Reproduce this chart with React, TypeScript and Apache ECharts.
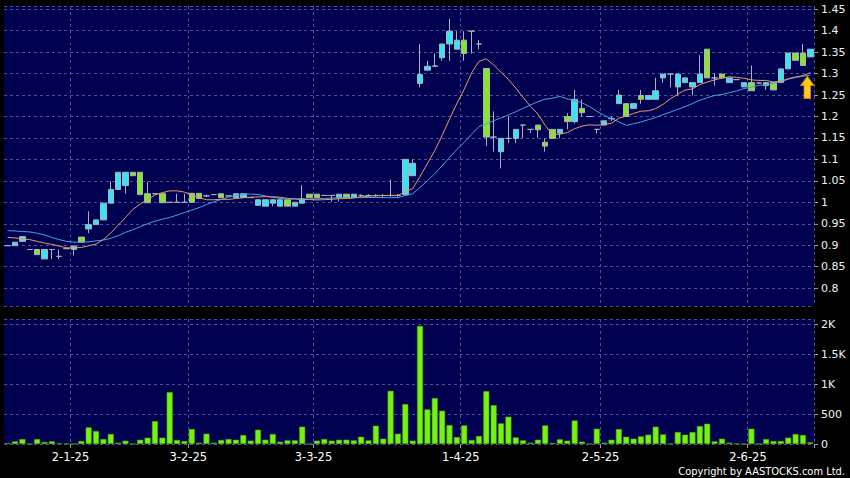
import React, { useEffect, useRef } from 'react';
import * as echarts from 'echarts';

// Daily bars (index 0..109)
const opens = [
  0.899, 0.899, 0.909, 0.890, 0.890, 0.868, 0.890, 0.874, 0.892, 0.890,
  0.919, 0.938, 0.948, 0.959, 0.998, 1.030, 1.039, 1.070, 1.070, 1.020,
  1.020, 1.020, 1.000, 1.000, 1.000, 1.021, 1.021, 1.015, 1.018, 1.020,
  1.015, 1.011, 1.011, 1.011, 0.993, 0.991, 0.998, 0.991, 1.006, 0.991,
  0.998, 1.019, 1.019, 1.016, 1.016, 1.011, 1.019, 1.011, 1.016, 1.016,
  1.016, 1.016, 1.016, 1.016, 1.018, 1.062, 1.277, 1.308, 1.317, 1.337,
  1.369, 1.357, 1.378, 1.399, 1.369, 1.312, 1.152, 1.118, 1.149, 1.149,
  1.180, 1.170, 1.180, 1.140, 1.170, 1.161, 1.200, 1.188, 1.219, 1.200,
  1.170, 1.180, 1.195, 1.230, 1.230, 1.219, 1.249, 1.240, 1.240, 1.290,
  1.299, 1.269, 1.279, 1.269, 1.279, 1.357, 1.290, 1.299, 1.279, 1.286,
  1.269, 1.279, 1.278, 1.272, 1.279, 1.279, 1.311, 1.348, 1.348, 1.339,
];
const closes = [
  0.899, 0.907, 0.920, 0.890, 0.878, 0.890, 0.890, 0.874, 0.892, 0.898,
  0.907, 0.948, 0.959, 0.998, 1.030, 1.070, 1.070, 1.062, 1.018, 0.999,
  1.020, 0.999, 1.000, 1.000, 1.000, 1.000, 1.009, 1.015, 1.018, 1.011,
  1.015, 1.020, 1.020, 1.011, 1.006, 1.006, 1.006, 1.006, 0.991, 1.000,
  1.008, 1.011, 1.011, 1.016, 1.016, 1.019, 1.011, 1.019, 1.016, 1.016,
  1.016, 1.016, 1.016, 1.016, 1.100, 1.091, 1.298, 1.317, 1.318, 1.369,
  1.399, 1.378, 1.347, 1.399, 1.369, 1.152, 1.152, 1.149, 1.149, 1.170,
  1.180, 1.170, 1.169, 1.131, 1.149, 1.170, 1.188, 1.240, 1.209, 1.200,
  1.170, 1.190, 1.195, 1.250, 1.200, 1.230, 1.240, 1.249, 1.260, 1.299,
  1.299, 1.299, 1.290, 1.279, 1.299, 1.290, 1.290, 1.290, 1.290, 1.286,
  1.279, 1.260, 1.278, 1.279, 1.262, 1.311, 1.348, 1.331, 1.319, 1.357,
];
const highs = [
  0.899, 0.907, 0.920, 0.890, 0.890, 0.890, 0.890, 0.890, 0.892, 0.898,
  0.919, 0.979, 0.959, 0.998, 1.049, 1.070, 1.070, 1.070, 1.070, 1.048,
  1.020, 1.020, 1.000, 1.020, 1.020, 1.021, 1.021, 1.018, 1.018, 1.020,
  1.015, 1.020, 1.020, 1.011, 1.006, 1.006, 1.006, 1.006, 1.006, 1.000,
  1.040, 1.019, 1.019, 1.016, 1.016, 1.019, 1.019, 1.019, 1.019, 1.019,
  1.019, 1.019, 1.053, 1.019, 1.100, 1.100, 1.369, 1.330, 1.347, 1.369,
  1.428, 1.399, 1.399, 1.399, 1.378, 1.312, 1.212, 1.149, 1.200, 1.170,
  1.180, 1.170, 1.180, 1.149, 1.170, 1.170, 1.208, 1.262, 1.240, 1.200,
  1.170, 1.190, 1.200, 1.262, 1.230, 1.230, 1.262, 1.249, 1.290, 1.299,
  1.299, 1.299, 1.290, 1.279, 1.343, 1.357, 1.301, 1.299, 1.290, 1.286,
  1.279, 1.319, 1.278, 1.279, 1.279, 1.311, 1.348, 1.348, 1.369, 1.357,
];
const lows = [
  0.899, 0.899, 0.909, 0.890, 0.878, 0.868, 0.868, 0.868, 0.892, 0.876,
  0.907, 0.928, 0.948, 0.959, 0.998, 1.030, 1.020, 1.062, 1.018, 0.999,
  1.020, 0.999, 1.000, 0.999, 0.999, 1.000, 1.009, 1.013, 1.018, 1.011,
  1.015, 1.011, 1.011, 1.011, 0.993, 0.991, 0.991, 0.991, 0.991, 0.991,
  0.998, 1.011, 1.011, 1.016, 1.001, 1.002, 1.011, 1.011, 1.013, 1.013,
  1.013, 1.013, 1.013, 1.013, 1.018, 1.062, 1.268, 1.308, 1.317, 1.330,
  1.330, 1.357, 1.330, 1.347, 1.357, 1.131, 1.118, 1.079, 1.138, 1.138,
  1.150, 1.162, 1.150, 1.118, 1.149, 1.150, 1.170, 1.184, 1.200, 1.200,
  1.161, 1.180, 1.190, 1.230, 1.200, 1.219, 1.230, 1.240, 1.240, 1.279,
  1.268, 1.249, 1.279, 1.249, 1.279, 1.290, 1.272, 1.290, 1.279, 1.286,
  1.269, 1.260, 1.278, 1.262, 1.262, 1.279, 1.311, 1.331, 1.319, 1.339,
];
const volumes = [
  15, 44, 83, 0, 83, 33, 44, 10, 5, 0,
  50, 278, 217, 83, 167, 22, 56, 0, 72, 106,
  383, 106, 867, 67, 50, 250, 22, 172, 22, 67,
  83, 72, 150, 56, 239, 72, 167, 39, 61, 61,
  289, 0, 56, 83, 56, 72, 72, 61, 122, 61,
  306, 89, 889, 172, 667, 56, 1972, 578, 767, 556,
  317, 117, 311, 67, 133, 883, 650, 344, 456, 111,
  61, 22, 72, 311, 17, 78, 56, 394, 39, 0,
  256, 22, 72, 250, 122, 89, 128, 156, 289, 161,
  5, 200, 156, 200, 300, 339, 44, 89, 22, 5,
  0, 256, 0, 83, 50, 50, 106, 167, 150, 28,
];
// Moving-average values before a full window exists
const ma10Head = [0.918, 0.917, 0.915, 0.913, 0.909, 0.905, 0.902, 0.898, 0.894];
const ma20Head = [
  0.934, 0.933, 0.932, 0.931, 0.928, 0.924, 0.918, 0.913, 0.909, 0.907,
  0.907, 0.908, 0.910, 0.912, 0.916, 0.922, 0.930, 0.936, 0.943,
];
const tickIndex = [9, 25, 42, 62, 81, 101];
const tickLabels = ['2-1-25', '3-2-25', '3-3-25', '1-4-25', '2-5-25', '2-6-25'];
const arrowPrice = 1.268;

export default function App() {
  const ref = useRef<HTMLDivElement>(null);
  useEffect(() => {
    const chart = echarts.init(ref.current!, null, { renderer: 'svg' });
    const n = closes.length;
    const cats = closes.map((_, i) => String(i));
    const labelMap: Record<number, string> = {};
    tickIndex.forEach((k, i) => (labelMap[k] = tickLabels[i]));
    const isTick = (i: number) => labelMap[i] !== undefined;
    const ma = (p: number, head: number[]) =>
      closes.map((_, i) => {
        if (i < p - 1) return head[i];
        let s = 0;
        for (let j = i - p + 1; j <= i; j++) s += closes[j];
        return +(s / p).toFixed(4);
      });
    const candles = closes.map((c, i) => [opens[i], c, lows[i], highs[i]]);
    const gridLine = { show: true, lineStyle: { color: '#50508e', type: [3, 3] as any, width: 1 } };
    const font = 'DejaVu Sans';
    const left = 4;
    const width = 810;

    chart.setOption({
      animation: false,
      backgroundColor: '#000',
      grid: [
        { left, width, top: 6, height: 300, show: true, backgroundColor: '#000050', borderWidth: 0 },
        { left, width, top: 319, height: 125, show: true, backgroundColor: '#000050', borderWidth: 0 },
      ],
      xAxis: [
        {
          type: 'category', gridIndex: 0, data: cats, boundaryGap: true,
          axisLine: { show: false }, axisTick: { show: false }, axisLabel: { show: false },
          splitLine: { ...gridLine, interval: (i: number) => isTick(i) },
        },
        {
          type: 'category', gridIndex: 1, data: cats, boundaryGap: true,
          axisLine: { show: false },
          axisTick: { show: true, length: 4, interval: (i: number) => isTick(i), lineStyle: { color: '#9a9a9a' } },
          axisLabel: {
            interval: (i: number) => isTick(i),
            formatter: (v: string) => labelMap[+v] || '',
            color: '#ffffff', fontFamily: font, fontSize: 11.5, margin: 7,
            padding: [0, 7, 0, 0],
          },
          splitLine: { ...gridLine, interval: (i: number) => isTick(i) },
        },
      ],
      yAxis: [
        {
          type: 'value', gridIndex: 0, position: 'right', min: 0.7583, max: 1.4576, splitNumber: 14,
          axisLine: { show: false },
          axisTick: { show: true, length: 4, lineStyle: { color: '#9a9a9a' } },
          axisLabel: { color: '#f0f0f0', fontFamily: font, fontSize: 11, margin: 7, showMinLabel: false, showMaxLabel: false },
          splitLine: gridLine,
        },
        {
          type: 'value', gridIndex: 1, position: 'right', min: 0, max: 2088, splitNumber: 4,
          axisLine: { show: false },
          axisTick: { show: true, length: 4, lineStyle: { color: '#9a9a9a' } },
          axisLabel: {
            color: '#f0f0f0', fontFamily: font, fontSize: 11, margin: 7, showMaxLabel: false,
            formatter: (v: number) => (v >= 1000 ? v / 1000 + 'K' : String(v)),
          },
          splitLine: gridLine,
        },
      ],
      series: [
        {
          type: 'candlestick', xAxisIndex: 0, yAxisIndex: 0, data: candles, barWidth: 6,
          itemStyle: {
            color: '#36e4f4', color0: '#86e62a',
            borderColor: '#a9b2bd', borderColor0: '#a9b2bd', borderWidth: 1,
          },
          markPoint: {
            symbol: 'path://M6.5,0 L13,9 L9.8,9 L9.8,22 L3.2,22 L3.2,9 L0,9 Z',
            symbolSize: [13, 22],
            symbolOffset: [-3, 0],
            label: { show: false },
            itemStyle: { color: '#ffcc1e', borderColor: '#c98a00', borderWidth: 1 },
            data: [{ coord: [String(n - 1), arrowPrice] }],
          },
        },
        {
          type: 'line', xAxisIndex: 0, yAxisIndex: 0, data: ma(20, ma20Head), symbol: 'none',
          lineStyle: { color: '#3fa6e6', width: 1 }, z: 3,
        },
        {
          type: 'line', xAxisIndex: 0, yAxisIndex: 0, data: ma(10, ma10Head), symbol: 'none',
          lineStyle: { color: '#e89a6a', width: 1 }, z: 3,
        },
        {
          type: 'bar', xAxisIndex: 1, yAxisIndex: 1, data: volumes, barWidth: 6,
          itemStyle: { color: '#76f212', borderColor: '#4aa80c', borderWidth: 0.6 },
        },
      ],
      graphic: [
        {
          type: 'text', right: 5, top: 466,
          style: {
            text: 'Copyright by AASTOCKS.com Ltd.', fill: '#ffffff',
            font: '11px "DejaVu Sans Condensed", "Liberation Sans Narrow", "DejaVu Sans", sans-serif',
          },
        },
      ],
    });
    return () => chart.dispose();
  }, []);
  return (
    <div
      ref={ref}
      style={{ position: 'fixed', left: 0, top: 0, width: 850, height: 478, background: '#000' }}
    />
  );
}
